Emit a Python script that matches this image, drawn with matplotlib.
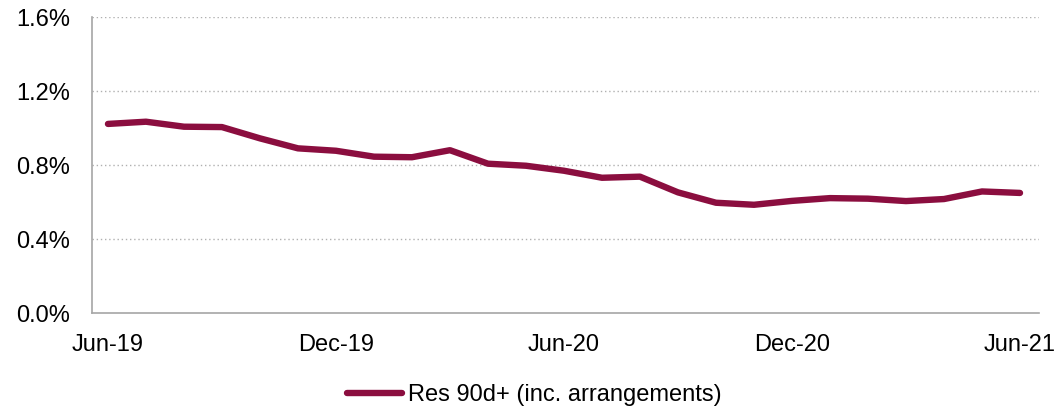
import numpy as np
import matplotlib
matplotlib.use("Agg")
from matplotlib import pyplot as plt
from matplotlib.ticker import FuncFormatter

# monthly Jun-19 .. Jun-21
months = ["Jun-19", "Jul-19", "Aug-19", "Sep-19", "Oct-19", "Nov-19", "Dec-19",
          "Jan-20", "Feb-20", "Mar-20", "Apr-20", "May-20", "Jun-20",
          "Jul-20", "Aug-20", "Sep-20", "Oct-20", "Nov-20", "Dec-20",
          "Jan-21", "Feb-21", "Mar-21", "Apr-21", "May-21", "Jun-21"]
res_90d = [1.022, 1.034, 1.007, 1.005, 0.944, 0.890, 0.877,
           0.845, 0.842, 0.880, 0.807, 0.796, 0.769,
           0.731, 0.737, 0.652, 0.596, 0.585, 0.606,
           0.621, 0.618, 0.605, 0.616, 0.657, 0.649]
shown_labels = ["Jun-19", "Dec-19", "Jun-20", "Dec-20", "Jun-21"]
y_ticks = [0.0, 0.4, 0.8, 1.2, 1.6]

plt.rcParams['font.family'] = ['Liberation Sans', 'DejaVu Sans']

fig = plt.figure(figsize=(10.56, 4.11), dpi=100)
ax = fig.add_axes([92/1056, 1 - 313/411, (1039-92)/1056, (313-17)/411])

x = np.arange(len(months))
ax.plot(x, res_90d, color="#8B0E3F", linewidth=4.6, solid_capstyle="round",
        solid_joinstyle="round", label="Res 90d+ (inc. arrangements)")

ax.set_ylim(0, 1.6)
ax.set_yticks(y_ticks)
ax.yaxis.set_major_formatter(FuncFormatter(lambda v, p: f"{v:.1f}%"))
ax.set_xlim(-0.42, 24.5)
ax.set_xticks([months.index(m) for m in shown_labels])
ax.set_xticklabels(shown_labels)

for v in y_ticks[1:]:
    ax.axhline(v, color="#b0b0b0", linestyle=(0, (1, 2)), linewidth=1.0, zorder=0)

for s in ["top", "right"]:
    ax.spines[s].set_visible(False)
for s in ["left", "bottom"]:
    ax.spines[s].set_color("#a6a6a6")
    ax.spines[s].set_linewidth(1.2)

ax.tick_params(axis="both", length=0, labelsize=17, colors="black")
ax.tick_params(axis="y", pad=16)
ax.tick_params(axis="x", pad=15)

fig.legend(loc="center", bbox_to_anchor=(534/1056, 1 - 395/411), frameon=False,
           fontsize=17, handlelength=2.33, handletextpad=0.25)

fig.savefig("out.png", dpi=100)
